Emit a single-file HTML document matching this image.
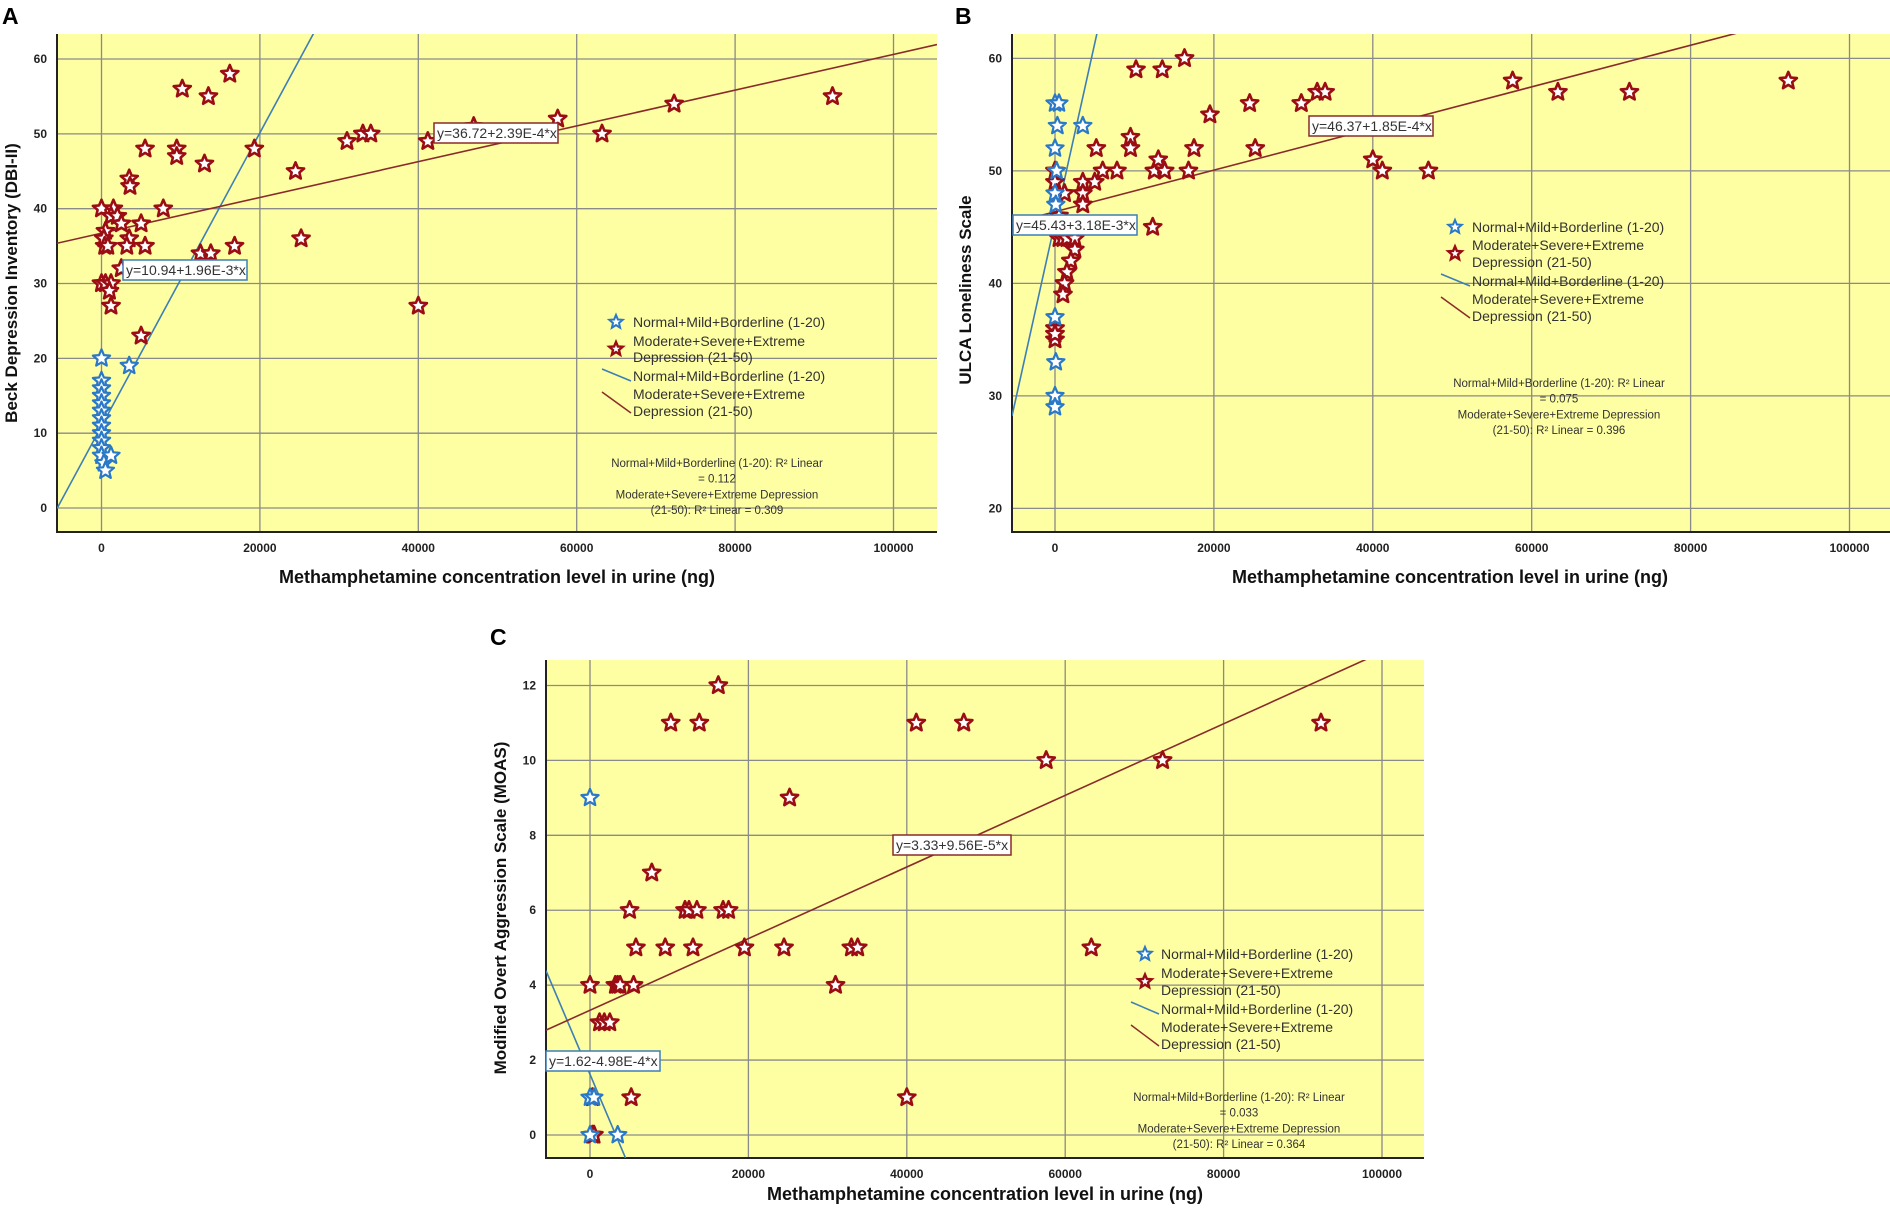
<!DOCTYPE html>
<html><head><meta charset="utf-8"><style>
html,body{margin:0;background:#fff;overflow:hidden;width:1890px;height:1214px}
svg{display:block;overflow:hidden}
text{font-family:"Liberation Sans Narrow","Liberation Sans",sans-serif}
.tk{font-size:12px;font-weight:bold;fill:#222}
.ax{font-size:18px;font-weight:bold;fill:#111}
.lg{font-size:14px;fill:#333}
.r2{font-size:11.5px;fill:#333}
.pl{font-family:"Liberation Sans",sans-serif;font-size:23px;font-weight:bold}
</style></head><body>
<svg id="fig" width="1890" height="1214" viewBox="0 0 1890 1214" xmlns="http://www.w3.org/2000/svg"></svg>
<script>
// ---- Panel A data ----
const aBlueX=[0,0,0,0,0,0,0,0,0,0,0,0,300,3500,1200,500];
const aBlueY=[20,17,16,15,14,13,12,11,10,9,8,7,6,19,7,5];
const aRedX=[0,500,300,400,800,0,500,1200,1000,1200,1500,1200,2000,2500,3500,3200,5000,3500,3600,5500,5500,7800,5000,2500,9500,9500,10200,13500,13000,16200,12500,13800,16800,19300,24500,25200,31000,33000,34000,40000,41200,47000,57600,63200,72300,92300];
const aRedY=[40,37,36,35,35,30,30,30,29,27,40,39,39,38,36,35,38,44,43,48,35,40,23,32,48,47,56,55,46,58,34,34,35,48,45,36,49,50,50,27,49,51,52,50,54,55];
const aFit=[10.94,1.96e-3,36.72,2.39e-4];
const aR2=["0.112","0.309"];
// ---- Panel B data ----
const bBlueX=[0,500,300,3500,0,200,0,100,0,100,0,0];
const bBlueY=[56,56,54,54,52,50,48,47,37,33,30,29];
const bRedX=[0,0,200,1200,500,500,1000,1500,2500,2500,2000,1500,1200,1000,0,0,0,3500,3500,3500,5000,5200,6000,7800,9500,9500,10200,13500,12500,13000,13800,12300,16300,16800,17500,19500,24500,25200,31000,33000,34000,40000,41200,47000,57600,63300,72300,92300];
const bRedY=[50,49,48,48,46,44,44,44,44,43,42,41,40,39,36,35,35.5,49,48,47,49,52,50,50,53,52,59,59,50,51,50,45,60,50,52,55,56,52,56,57,57,51,50,50,58,57,57,58];
const bFit=[45.43,3.18e-3,46.37,1.85e-4];
const bR2=["0.075","0.396"];
// ---- Panel C data ----
const cBlueX=[0,0,500,0,3500];
const cBlueY=[9,1,1,0,0];
const cRedX=[0,3200,3500,3800,5500,1200,1800,2500,300,5200,300,500,5000,5800,7800,9500,10200,12000,12500,13500,13000,13800,16200,16800,17500,19500,24500,25200,31000,33000,33800,40000,41200,47200,57600,63300,72300,92300];
const cRedY=[4,4,4,4,4,3,3,3,1,1,0,0,6,5,7,5,11,6,6,6,5,11,12,6,6,5,5,9,4,5,5,1,11,11,10,5,10,11];
const cFit=[1.62,-4.98e-4,3.33,9.56e-5];
const cR2=["0.033","0.364"];
const xTicks=[0,20000,40000,60000,80000,100000];
const aYTicks=[0,10,20,30,40,50,60];
const bYTicks=[20,30,40,50,60];
const cYTicks=[0,2,4,6,8,10,12];

const NS="http://www.w3.org/2000/svg";
const svg=document.getElementById('fig');
function mk(tag,at,parent){const e=document.createElementNS(NS,tag);for(const k in at)e.setAttribute(k,at[k]);(parent||svg).appendChild(e);return e;}
function starPath(cx,cy,r){let d="";for(let i=0;i<10;i++){const rr=i%2?r*0.45:r;const a=-Math.PI/2+i*Math.PI/5;d+=(i?"L":"M")+(cx+rr*Math.cos(a)).toFixed(1)+","+(cy+rr*Math.sin(a)).toFixed(1);}return d+"Z";}
const BLUE="#2a78c8",RED="#9b0d14",BL="#3d7fb5",RL="#8a2b2b";

function panel(P){
  const g=mk('g',{});
  
  
  const X=v=>P.x0+v*P.kx, Y=v=>P.y0-(v-P.yb)*P.ky;
  const bg=mk('rect',{x:P.L,y:P.T,width:P.R-P.L,height:P.B-P.T,fill:'#fefea2'},g);
  
  const cp='cp'+P.name;const c=mk('clipPath',{id:cp},g);mk('rect',{x:P.L,y:P.T,width:P.R-P.L,height:P.B-P.T},c);
  xTicks.forEach(t=>{const l=mk('line',{x1:X(t),x2:X(t),y1:P.T,y2:P.B,stroke:'#8a8a8a','stroke-width':1.3},g);
    
    const tx=mk('text',{x:X(t),y:P.B+20,'text-anchor':'middle',class:'tk'},g);tx.textContent=t;
    });
  P.yt.forEach(t=>{const l=mk('line',{x1:P.L,x2:P.R,y1:Y(t),y2:Y(t),stroke:'#8a8a8a','stroke-width':1.3},g);
    
    const tx=mk('text',{x:P.L-10,y:Y(t)+4,'text-anchor':'end',class:'tk'},g);tx.textContent=t;
    });
  const ax=mk('path',{d:`M${P.L},${P.T}V${P.B}H${P.R}`,fill:'none',stroke:'#222','stroke-width':2},g);
  
  const gl=mk('g',{'clip-path':`url(#${cp})`},g);
  const xmin=(P.L-P.x0)/P.kx,xmax=(P.R-P.x0)/P.kx;
  [[P.fit[0],P.fit[1],BL,'blue-fit-line'],[P.fit[2],P.fit[3],RL,'red-fit-line']].forEach(f=>{
    const l=mk('line',{x1:X(xmin),y1:Y(f[0]+f[1]*xmin),x2:X(xmax),y2:Y(f[0]+f[1]*xmax),stroke:f[2],'stroke-width':1.6},gl);
    });
  P.rx.forEach((v,i)=>{const s=mk('path',{d:starPath(X(v),Y(P.ry[i]),9),fill:'#fff',stroke:RED,'stroke-width':2.6,'stroke-linejoin':'round'},gl);
    });
  P.bx.forEach((v,i)=>{const s=mk('path',{d:starPath(X(v),Y(P.by[i]),9),fill:'#fff',stroke:BLUE,'stroke-width':2.2,'stroke-linejoin':'round'},gl);
    });
  const eq=(b,col,txt,name)=>{const r=mk('rect',{x:b[0],y:b[1],width:b[2],height:b[3],fill:'#fff',stroke:col,'stroke-width':1.5},g);
    
    const t=mk('text',{x:b[0]+3,y:b[1]+b[3]-5,class:'lg'},g);t.textContent=txt;
    };
  eq(P.bl,BL,P.btxt,'blue-equation');eq(P.rl,RL,P.rtxt,'red-equation');
  const lg=P.lg,leg=mk('g',{},g);
  const lt=(y,s)=>{const t=mk('text',{x:lg.tx,y:y+5,class:'lg'},leg);t.textContent=s;};
  let s=mk('path',{d:starPath(lg.sx,lg.r[0],7),fill:'#fff',stroke:BLUE,'stroke-width':2},leg);
  lt(lg.r[0],'Normal+Mild+Borderline (1-20)');
  s=mk('path',{d:starPath(lg.sx,(lg.r[1]+lg.r[2])/2,7),fill:'#fff',stroke:RED,'stroke-width':2.4},leg);
  lt(lg.r[1],'Moderate+Severe+Extreme');lt(lg.r[2],'Depression (21-50)');
  s=mk('line',{x1:lg.sx-14,y1:lg.r[3]-7,x2:lg.tx-2,y2:lg.r[3]+5,stroke:BL,'stroke-width':1.5},leg);
  lt(lg.r[3],'Normal+Mild+Borderline (1-20)');
  s=mk('line',{x1:lg.sx-14,y1:lg.r[4]-2,x2:lg.tx-2,y2:lg.r[5]+2,stroke:RL,'stroke-width':1.5},leg);
  lt(lg.r[4],'Moderate+Severe+Extreme');lt(lg.r[5],'Depression (21-50)');
  const r2=mk('text',{x:P.r2x,y:P.r2y,'text-anchor':'middle',class:'r2'},g);
  
  const lines=['Normal+Mild+Borderline (1-20): R²  Linear','= '+P.r2[0],'Moderate+Severe+Extreme Depression','(21-50): R²  Linear = '+P.r2[1]];
  lines.forEach((l,i)=>{const ts=mk('tspan',{x:P.r2x,dy:i?15.7:0},r2);ts.textContent=l;});
  const xt=mk('text',{x:P.xtx,y:P.xty,'text-anchor':'middle',class:'ax'},g);xt.textContent='Methamphetamine concentration level in urine (ng)';
  
  const yt=mk('text',{x:0,y:0,'text-anchor':'middle',class:'ax',transform:`translate(${P.ytx},${P.yty}) rotate(-90)`,style:'font-family:"Liberation Sans",sans-serif;font-size:17px'},g);yt.textContent=P.ytitle;
  
  const pl=mk('text',{x:P.plx,y:P.ply,class:'pl'},g);pl.textContent=P.letter;
  
}
panel({name:'panel-a',L:57,R:937,T:34,B:532,x0:101.5,kx:0.00792,y0:508,yb:0,ky:7.483,yt:aYTicks,
  bx:aBlueX,by:aBlueY,rx:aRedX,ry:aRedY,fit:aFit,r2:aR2,
  bl:[123,260,124,20],btxt:'y=10.94+1.96E-3*x',rl:[434,123,124,20],rtxt:'y=36.72+2.39E-4*x',
  lg:{sx:616,tx:633,r:[322,341,357,376,394,411]},r2x:717,r2y:467,
  xtx:497,xty:583,ytx:17,yty:283,ytitle:'Beck Depression Inventory (DBI-II)',plx:2,ply:24,letter:'A'});
panel({name:'panel-b',L:1012,R:1890,T:34,B:532,x0:1055,kx:0.007945,y0:508.4,yb:20,ky:11.25,yt:bYTicks,
  bx:bBlueX,by:bBlueY,rx:bRedX,ry:bRedY,fit:bFit,r2:bR2,
  bl:[1013,215,124,20],btxt:'y=45.43+3.18E-3*x',rl:[1309,116,124,20],rtxt:'y=46.37+1.85E-4*x',
  lg:{sx:1455,tx:1472,r:[227,245,262,281,299,316]},r2x:1559,r2y:387,
  xtx:1450,xty:583,ytx:971,yty:290,ytitle:'ULCA Loneliness Scale',plx:955,ply:24,letter:'B'});
panel({name:'panel-c',L:546,R:1424,T:660,B:1158,x0:590,kx:0.00792,y0:1135,yb:0,ky:37.46,yt:cYTicks,
  bx:cBlueX,by:cBlueY,rx:cRedX,ry:cRedY,fit:cFit,r2:cR2,
  bl:[546,1051,114,20],btxt:'y=1.62-4.98E-4*x',rl:[893,835,118,20],rtxt:'y=3.33+9.56E-5*x',
  lg:{sx:1145,tx:1161,r:[954,973,990,1009,1027,1044]},r2x:1239,r2y:1101,
  xtx:985,xty:1200,ytx:506,yty:908,ytitle:'Modified Overt Aggression Scale (MOAS)',plx:490,ply:645,letter:'C'});
</script>
</body></html>
